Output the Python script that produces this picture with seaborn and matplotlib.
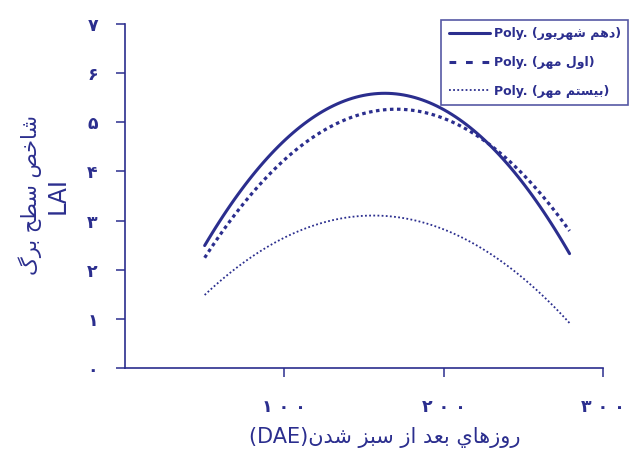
import matplotlib
matplotlib.use("Agg")
import matplotlib.pyplot as plt
from matplotlib.lines import Line2D
import seaborn as sns

# ---------------- data ----------------
x_days = [50, 75, 100, 125, 150, 175, 200, 225, 250, 279]
lai_shahrivar10 = [2.49, 3.71, 4.63, 5.24, 5.55, 5.55, 5.26, 4.66, 3.75, 2.33]
lai_mehr1 = [2.25, 3.36, 4.23, 4.84, 5.19, 5.27, 5.08, 4.63, 3.92, 2.80]
lai_mehr20 = [1.49, 2.16, 2.65, 2.96, 3.09, 3.05, 2.82, 2.42, 1.84, 0.90]

series_names = ["دهم شهريور", "اول مهر", "بيستم مهر"]
x_ticks = [100, 200, 300]
y_ticks = [0, 1, 2, 3, 4, 5, 6, 7]
x_label_fa = "روزهاي بعد از سبز شدن"
x_label_en = "(DAE)"
y_label_fa = "شاخص سطح برگ"
y_label_en = "LAI"

# ---------------- minimal Persian shaping (matplotlib has no RTL shaping) ----------------
FORMS = {
    "ا": ("\uFE8D", "\uFE8E", None, None),
    "ب": ("\uFE8F", "\uFE90", "\uFE91", "\uFE92"),
    "ت": ("\uFE95", "\uFE96", "\uFE97", "\uFE98"),
    "ح": ("\uFEA1", "\uFEA2", "\uFEA3", "\uFEA4"),
    "خ": ("\uFEA5", "\uFEA6", "\uFEA7", "\uFEA8"),
    "د": ("\uFEA9", "\uFEAA", None, None),
    "ر": ("\uFEAD", "\uFEAE", None, None),
    "ز": ("\uFEAF", "\uFEB0", None, None),
    "س": ("\uFEB1", "\uFEB2", "\uFEB3", "\uFEB4"),
    "ش": ("\uFEB5", "\uFEB6", "\uFEB7", "\uFEB8"),
    "ص": ("\uFEB9", "\uFEBA", "\uFEBB", "\uFEBC"),
    "ط": ("\uFEC1", "\uFEC2", "\uFEC3", "\uFEC4"),
    "ع": ("\uFEC9", "\uFECA", "\uFECB", "\uFECC"),
    "ل": ("\uFEDD", "\uFEDE", "\uFEDF", "\uFEE0"),
    "م": ("\uFEE1", "\uFEE2", "\uFEE3", "\uFEE4"),
    "ن": ("\uFEE5", "\uFEE6", "\uFEE7", "\uFEE8"),
    "ه": ("\uFEE9", "\uFEEA", "\uFEEB", "\uFEEC"),
    "و": ("\uFEED", "\uFEEE", None, None),
    "ي": ("\uFEF1", "\uFEF2", "\uFEF3", "\uFEF4"),
    "گ": ("\uFB92", "\uFB93", "\uFB94", "\uFB95"),
}


def dual(ch):
    return ch in FORMS and FORMS[ch][2] is not None


def fa(text):
    out = []
    for i, ch in enumerate(text):
        if ch not in FORMS:
            out.append(ch)
            continue
        prev = text[i - 1] if i > 0 else ""
        nxt = text[i + 1] if i + 1 < len(text) else ""
        jp = dual(prev)
        jn = dual(ch) and nxt in FORMS
        iso, fin, ini, med = FORMS[ch]
        if jp and jn:
            out.append(med)
        elif jp:
            out.append(fin)
        elif jn:
            out.append(ini)
        else:
            out.append(iso)
    return "".join(reversed(out))


PERSIAN_DIGITS = "۰۱۲۳۴۵۶۷۸۹"


def fa_num(n):
    return "".join(PERSIAN_DIGITS[int(d)] for d in str(n))


# ---------------- plot ----------------
sns.set_theme(style="white")
plt.rcParams["font.family"] = ["DejaVu Sans"]
BLUE = "#2B2E8E"

fig = plt.figure(figsize=(6.3, 4.54), dpi=100)
ax = fig.add_axes([125 / 630, 1 - 368 / 454, (603 - 125) / 630, (368 - 24) / 454])

styles = [
    dict(color=BLUE, lw=2.2, ls="-"),
    dict(color=BLUE, lw=2.3, ls=(0, (1.1, 1.1))),
    dict(color=BLUE, lw=1.3, ls=(0, (1.0, 1.3))),
]
for yvals, st in zip([lai_shahrivar10, lai_mehr1, lai_mehr20], styles):
    sns.regplot(x=x_days, y=yvals, order=2, ci=None, scatter=False,
                truncate=True, ax=ax, line_kws=st)

ax.set_xlim(0, 300)
ax.set_ylim(0, 7)
ax.set_xticks(x_ticks)
ax.set_xticklabels([" ".join(fa_num(v)) for v in x_ticks])
ax.set_yticks(y_ticks)
ax.set_yticklabels([fa_num(v) for v in y_ticks])

for s in ["top", "right"]:
    ax.spines[s].set_visible(False)
for s in ["left", "bottom"]:
    ax.spines[s].set_color(BLUE)
    ax.spines[s].set_linewidth(1.2)

ax.tick_params(axis="both", colors=BLUE, direction="out", length=6.5, width=1.1,
               labelsize=12.5, labelcolor=BLUE, bottom=True, left=True)
ax.tick_params(axis="y", pad=13)
ax.tick_params(axis="x", pad=15)
for lab in ax.get_xticklabels() + ax.get_yticklabels():
    lab.set_fontweight("bold")

ax.set_xlabel(x_label_en + fa(x_label_fa), fontsize=15, color=BLUE)
ax.xaxis.set_label_coords((385 - 125) / 478, (368 - 438) / 344)
ax.xaxis.label.set_va("center")

ax.set_ylabel("")
fig.text(30 / 630, 1 - 195 / 454, fa(y_label_fa), rotation=90, fontsize=15,
         color=BLUE, ha="center", va="center")
fig.text(58 / 630, 1 - 195 / 454, y_label_en, rotation=90, fontsize=17,
         color=BLUE, ha="center", va="center")

handles = [
    Line2D([], [], color=BLUE, lw=2.2, ls="-"),
    Line2D([], [], color=BLUE, lw=2.2, ls=(0, (2.2, 3.2))),
    Line2D([], [], color=BLUE, lw=1.3, ls=(0, (1.0, 1.3))),
]
labels = ["Poly. (" + fa(n) + ")" for n in series_names]
leg = fig.legend(handles, labels, loc="upper left",
                 bbox_to_anchor=(441 / 630, 1 - 20 / 454),
                 frameon=True, fancybox=False, edgecolor=BLUE, facecolor="white",
                 prop={"weight": "bold", "size": 9}, labelcolor=BLUE,
                 handlelength=3.3, handletextpad=0.3, labelspacing=1.25,
                 borderpad=0.6, borderaxespad=0)
leg.get_frame().set_linewidth(1.2)

fig.savefig("out.png", dpi=100)
